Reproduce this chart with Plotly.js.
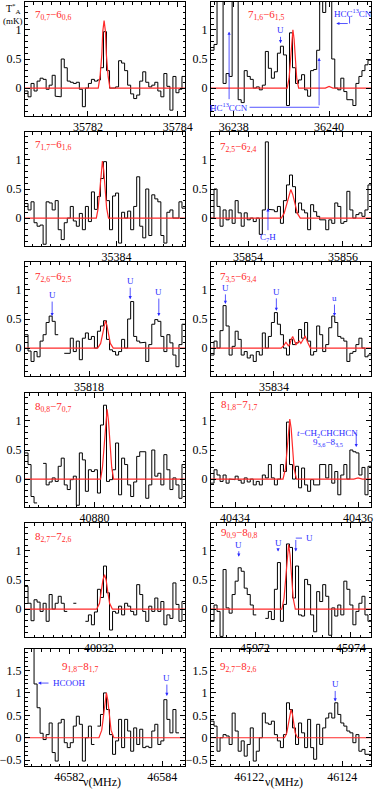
<!DOCTYPE html>
<html>
<head>
<meta charset="utf-8">
<script src="https://cdn.plot.ly/plotly-3.0.1.min.js"></script>
<style>html,body{margin:0;padding:0;background:#fff;}</style>
</head>
<body>
<div id="fig" style="width:382px;height:789px"></div>
<script>
const nuMin = [35780.60, 36237.52, 35382.05, 35853.22, 35816.68, 35832.69,
               40878.50, 40433.61, 40930.39, 45971.08, 46581.05, 46121.18];
const nuMax = [35784.16, 36240.88, 35385.46, 35856.59, 35819.98, 35836.02,
               40881.95, 40436.21, 40933.87, 45974.42, 46584.49, 46124.62];

const lineLabels = [
  '7<sub>0,7</sub>−6<sub>0,6</sub>', '7<sub>1,6</sub>−6<sub>1,5</sub>',
  '7<sub>1,7</sub>−6<sub>1,6</sub>', '7<sub>2,5</sub>−6<sub>2,4</sub>',
  '7<sub>2,6</sub>−6<sub>2,5</sub>', '7<sub>3,5</sub>−6<sub>3,4</sub>',
  '8<sub>0,8</sub>−7<sub>0,7</sub>', '8<sub>1,8</sub>−7<sub>1,7</sub>',
  '8<sub>2,7</sub>−7<sub>2,6</sub>', '9<sub>0,9</sub>−8<sub>0,8</sub>',
  '9<sub>1,8</sub>−8<sub>1,7</sub>', '9<sub>2,7</sub>−8<sub>2,6</sub>'
];

// Espectros observados, T*A (mK), um valor por canal (null = sem dados)
const spec1 = [-0.05,-0.15,0.08,-0.05,0.12,0.17,0.15,-0.02,0.05,0.22,-0.14,-0.15,0.5,0.35,0.12,0.1,0.08,0.1,-0.02,-0.32,0,0.08,0.15,0.12,0.14,0.35,0.97,0.3,0,0,0.02,0.47,0.43,0.3,0.05,-0.1,-0.18,-0.12,0.12,0.28,0.1,0.02,0.05,0.1,-0.05,-0.15,0.25,0.03,-0.38,0.2,-0.08,-0.02,0.2];
const spec2 = [0.65,0.75,3,3,0.08,0.25,0.2,3,3,-0.2,-0.25,0.3,0.2,0.15,0,0.02,-0.03,0.05,0.63,0.34,0.17,0.28,0.6,0.72,0.57,-0.3,0.95,0.35,0.08,0.14,0.23,-0.03,-0.14,0.3,0.32,0.65,3,1.3,3,3,0.5,0,-0.03,0.17,-0.06,-0.2,-0.2,-0.3,0.08,0.2,0.3,0.4,0.48];
const spec3 = [0.25,0.14,0.28,-0.08,-0.14,-0.12,-0.45,0.28,0.26,0.14,0.3,-0.2,-0.37,-0.08,0,0.2,-0.05,-0.14,0.08,-0.2,0.2,-0.06,0.45,0.15,0.37,0.68,0.97,0.3,-0.2,0.38,0.43,-0.43,0.1,0,0.12,-0.2,0.2,0.71,-0.14,-0.34,0.5,-0.3,0.4,0.33,0.28,-0.3,-0.43,0.1,0.14,0,0,0.28,0.17];
const spec4 = [0,0.5,0.2,-0.14,0.14,-0.03,0.14,-0.09,0.3,0.09,-0.14,0.09,-0.03,0,-0.06,0,-0.28,0.14,1.31,0.15,0.14,0.11,0.2,-0.09,0.3,0.57,0.74,0.54,0.09,0.26,0.14,0.09,-0.2,0.23,0.11,0.03,-0.03,-0.03,-0.2,-0.03,-0.09,0.26,0.2,-0.09,-0.06,0.46,0.14,0,0.06,0.09,0.03,0.14,0.57];
const spec5 = [0.23,-0.05,-0.23,-0.06,-0.15,0.12,0.23,0.44,0.55,0.46,0.23,null,null,-0.09,-0.09,0.17,-0.06,0.12,-0.2,0.17,0.26,0.15,0.2,0,0.29,0.38,0.47,0.15,-0.03,-0.06,-0.12,-0.06,0.15,0,0.5,0.8,0.2,0.12,0.09,0.1,-0.23,0.06,0.41,0.49,0.46,0.2,-0.06,0.23,0.09,-0.12,-0.32,0.06,0.41];
const spec6 = [-0.12,0.12,0,0.3,0.73,0.38,-0.12,0.03,0.29,0.15,-0.12,-0.06,-0.17,-0.12,-0.23,-0.06,-0.12,0.26,0,0.2,0.44,0.61,0.41,0.23,0,-0.12,0.15,0.06,0.09,0.32,0.17,0.44,0.12,-0.12,-0.06,0.38,0.23,-0.06,0.06,0.35,0.55,0.44,0.2,0.17,0.12,-0.23,-0.09,-0.06,0.06,0.17,0,-0.15,-0.12];
const spec7 = [0.45,0.25,-0.3,-0.41,null,null,0.27,-0.1,-0.05,0.02,-0.04,0.22,0.36,-0.1,-0.18,-0.01,0.05,-0.45,0.45,0.33,-0.21,0.16,0.13,0.16,-0.24,0.93,1.27,-0.04,-0.01,0.16,0.62,-0.27,0.36,0.25,-0.1,-0.3,-0.05,0.39,0.47,0.47,-0.33,-0.1,0.5,0.05,0.1,-0.1,0.42,0.16,-0.18,0.02,-0.1,-0.33,0.25];
const spec8 = [-0.07,0.16,0.07,-0.04,0.07,-0.07,0,-0.01,0.05,-0.02,-0.07,0.02,-0.05,0,-0.1,-0.04,-0.1,0.07,0.02,0.25,0.02,-0.1,0,0.25,0.13,0.98,0.25,0,0.22,-0.15,0.19,-0.1,-0.21,-0.01,-0.1,-0.1,0.25,0.25,0.02,0.25,-0.07,0.13,-0.27,0.07,0.25,0,0.5,0.47,0.45,0.07,0.2,-0.27,0.22];
const spec9 = [0.39,0.1,-0.2,0.16,0.12,-0.04,0.1,-0.21,0.25,0,0.1,0.22,0.1,-0.04,null,null,0.1,null,null,null,-0.21,-0.1,-0.27,-0.05,0.34,0.2,0.74,0.28,-0.36,-0.04,-0.07,0.05,-0.1,0.1,0.05,-0.04,-0.1,0.42,0.25,-0.04,-0.21,0.05,-0.04,0.19,-0.04,0.13,-0.27,-0.1,-0.16,0.45,0.08,-0.21,0.13];
const spec10 = [-0.21,0.07,-0.04,-0.47,0.68,0.02,-0.07,0.25,0.48,0.71,0.65,0.36,0.25,0.07,-0.1,null,null,null,-0.16,-0.04,-0.18,0.34,0.8,-0.21,0.08,1.12,1.06,0.19,0.74,-0.1,-0.12,0.51,0.42,-0.1,-0.39,0.3,0.13,0.42,0.22,-0.45,0.02,-0.12,0.07,-0.1,0.48,0.34,0.07,-0.27,-0.04,0.1,0.22,-0.1,-0.21];
const spec11 = [2.5,2.5,2.3,1.2,0.67,0.1,-0.04,0.07,0.33,-0.33,-0.52,0.33,0.41,-0.11,-0.22,-0.11,0.26,0.48,0.3,-0.52,0,0.26,-0.15,null,0.26,0.52,1.0,0.63,0.07,-0.37,-0.07,0.41,-0.22,0.41,0.15,-0.3,0.22,-0.15,0.19,-0.22,-0.19,-0.22,0.15,0.3,-0.15,-0.07,0.85,0.41,0.11,0.63,0.11,null,null];
const spec12 = [0.37,0.26,-0.3,0,0.07,0.04,-0.15,0.55,0.15,-0.3,-0.07,-0.41,-0.15,0.22,-0.52,-0.3,0,0.55,0.33,0.3,0.37,0.07,-0.07,-0.22,0.07,0.78,0.63,0.22,-0.15,0.33,0.11,-0.22,0.41,-0.22,-0.48,0.3,-0.15,0.22,0.44,0.55,0.44,0.78,0.52,0.33,0.26,0.15,0.11,-0.11,0.07,-0.3,-0.26,-0.37,-0.37];

// Modelo ajustado (curva vermelha)
const modelNu1 = [35780.6,35782.23,35782.27,35782.31,35782.33,35782.36,35782.39,35782.41,35782.45,35782.49,35784.16];
const modelT1  = [0,0,0.2,0.58,0.97,1.16,0.97,0.58,0.2,0,0];
const modelNu2 = [36237.52,36239.12,36239.16,36239.19,36239.215,36239.24,36239.265,36239.29,36239.32,36239.36,36239.92,36240.0,36240.08,36240.88];
const modelT2  = [0,0,0.17,0.5,0.84,1.0,0.84,0.5,0.17,0,0,0.03,0,0];
const modelNu3 = [35382.05,35383.57,35383.61,35383.645,35383.672,35383.70,35383.728,35383.755,35383.79,35383.83,35385.46];
const modelT3  = [0,0,0.17,0.49,0.82,0.98,0.82,0.49,0.17,0,0];
const modelNu4 = [35853.22,35854.70,35854.76,35854.815,35854.86,35854.90,35854.94,35854.985,35855.04,35855.10,35856.59];
const modelT4  = [0,0,0.08,0.25,0.41,0.49,0.41,0.25,0.08,0,0];
const modelNu5 = [35816.68,35818.18,35818.24,35818.275,35818.31,35818.34,35818.37,35818.405,35818.44,35818.50,35819.98];
const modelT5  = [0,0,0.08,0.24,0.39,0.47,0.39,0.24,0.08,0,0];
const modelNu6 = [35832.69,35834.15,35834.20,35834.25,35834.30,35834.33,35834.36,35834.39,35834.42,35834.46,35834.50,35834.53,35834.56,35834.60,35834.65,35834.70,35834.76,35836.02];
const modelT6  = [0,0,0.04,0.1,0.04,0.06,0.15,0.2,0.14,0.06,0.1,0.12,0.08,0.13,0.21,0.1,0,0];
const modelNu7 = [40878.5,40880.13,40880.17,40880.21,40880.24,40880.27,40880.30,40880.33,40880.37,40880.41,40881.95];
const modelT7  = [0,0,0.2,0.6,1.0,1.2,1.0,0.6,0.2,0,0];
const modelNu8 = [40433.61,40434.78,40434.82,40434.845,40434.867,40434.89,40434.913,40434.935,40434.96,40435.0,40435.93,40436.0,40436.07,40436.21];
const modelT8  = [0,0,0.18,0.52,0.87,1.03,0.87,0.52,0.18,0,0,0.02,0,0];
const modelNu9 = [40930.39,40931.95,40932.01,40932.05,40932.085,40932.12,40932.155,40932.19,40932.23,40932.29,40933.87];
const modelT9  = [0,0,0.1,0.3,0.5,0.59,0.5,0.3,0.1,0,0];
const modelNu10 = [45971.08,45972.56,45972.605,45972.64,45972.67,45972.70,45972.73,45972.76,45972.795,45972.84,45974.42];
const modelT10  = [0,0,0.19,0.56,0.93,1.11,0.93,0.56,0.19,0,0];
const modelNu11 = [46581.05,46582.64,46582.70,46582.735,46582.77,46582.80,46582.83,46582.865,46582.90,46582.96,46584.49];
const modelT11  = [0,0,0.17,0.5,0.84,1.0,0.84,0.5,0.17,0,0];
const modelNu12 = [46121.18,46122.76,46122.81,46122.84,46122.87,46122.90,46122.93,46122.96,46122.99,46123.04,46124.62];
const modelT12  = [0,0,0.11,0.32,0.53,0.63,0.53,0.32,0.11,0,0];

// Marcas de linhas não identificadas / outras espécies: [painel, nu, T da ponta, deslocamento px, texto]
const arrowMarks = [
  [2, 36238.98, 0.77, -13, 'U'],
  [2, 36237.90, 0.97, 75, 'HC<sup>13</sup>CCN'],
  [4, 35854.42, 0.17, 29, 'C<sub>7</sub>H'],
  [5, 35817.24, 0.55, -21, 'U'],
  [5, 35818.85, 0.84, -18, 'U'],
  [5, 35819.44, 0.55, -24, 'U'],
  [6, 35832.99, 0.76, -16, 'U'],
  [6, 35834.05, 0.64, -19, 'U'],
  [6, 35835.26, 0.55, -18, 'u'],
  [10, 45971.66, 0.90, -12, 'U'],
  [10, 45972.48, 0.99, -9, 'U'],
  [11, 46584.10, 0.93, -18, 'U'],
  [12, 46123.85, 0.81, -17, 'U']
];
// setas sem texto: [painel, nu, T, ax px, ay px]
const bareArrows = [
  [2, 36239.79, 0.52, 0, 49],
  [2, 36240.15, 1.11, 13, 0],
  [8, 40435.97, 0.55, 0, -14],
  [10, 45972.85, 0.99, 0, -13],
  [11, 46581.33, 1.22, 12, 0]
];
// textos soltos: [painel, nu, T, texto, âncora]
const freeTexts = [
  [2, 36240.51, 1.29, 'HCC<sup>13</sup>CN', 'center'],
  [8, 40435.50, 0.79, '<i>t</i>−CH<sub>2</sub>CHCHCN', 'center'],
  [8, 40435.51, 0.63, '9<sub>3,6</sub>−8<sub>3,5</sub>', 'center'],
  [10, 45973.02, 1.22, 'U', 'left'],
  [11, 46581.60, 1.22, 'HCOOH', 'left']
];
// traços de ligação: [painel, nu0, T0, nu1, T1]
const connectors = [
  [2, 36238.33, -0.33, 36239.79, -0.33],
  [2, 36240.43, 1.23, 36240.43, 1.11],
  [8, 40435.93, 0.79, 40435.97, 0.79],
  [10, 45972.85, 1.22, 45972.98, 1.22]
];

// Layout (pixels)
const W = 382, H = 789;
const colPx = [[25, 185], [211, 371]];
const rowPx = [[2, 116], [132, 246], [262, 376], [393, 507], [523, 637], [649, 766]];
const labelPx = [[33,15],[246,15],[33,145],[218,147],[33,277],[218,277],
                 [33,407],[219,405],[33,537],[219,533],[60,667],[218,667]];

const RED = '#ff2a2a', BLUE = '#2a2aff';
const spectra = [spec1,spec2,spec3,spec4,spec5,spec6,spec7,spec8,spec9,spec10,spec11,spec12];
const modelNu = [modelNu1,modelNu2,modelNu3,modelNu4,modelNu5,modelNu6,modelNu7,modelNu8,modelNu9,modelNu10,modelNu11,modelNu12];
const modelT = [modelT1,modelT2,modelT3,modelT4,modelT5,modelT6,modelT7,modelT8,modelT9,modelT10,modelT11,modelT12];

const sfx = k => (k === 1 ? '' : String(k));
const traces = [];
const layout = {
  width: W, height: H, margin: {l: 0, r: 0, t: 0, b: 0},
  paper_bgcolor: '#fff', plot_bgcolor: '#fff', showlegend: false,
  font: {family: 'Liberation Serif', size: 12, color: '#000'},
  annotations: [], shapes: []
};

for (let p = 0; p < 12; p++) {
  const k = p + 1, row = Math.floor(p / 2), col = p % 2;
  const vals = spectra[p];
  const n = vals.length, dnu = (nuMax[p] - nuMin[p]) / n;
  // histograma: cada canal vira um degrau horizontal
  const x = [], y = [];
  vals.forEach((v, i) => {
    if (v === null) { x.push(null); y.push(null); return; }
    x.push(nuMin[p] + i * dnu, nuMin[p] + (i + 1) * dnu);
    y.push(v, v);
  });
  traces.push({x, y, xaxis: 'x' + sfx(k), yaxis: 'y' + sfx(k), mode: 'lines',
    connectgaps: false, line: {color: '#000', width: 1}, hoverinfo: 'skip'});
  traces.push({x: modelNu[p], y: modelT[p], xaxis: 'x' + sfx(k), yaxis: 'y' + sfx(k),
    mode: 'lines', line: {color: RED, width: 1.2}, hoverinfo: 'skip'});

  const common = {showline: true, linecolor: '#000', linewidth: 1, mirror: 'ticks',
    ticks: 'inside', ticklen: 5, tickwidth: 1, tickcolor: '#000',
    showgrid: false, zeroline: false, fixedrange: true, tickfont: {size: 12}};
  layout['xaxis' + sfx(k)] = Object.assign({}, common, {
    domain: [colPx[col][0] / W, colPx[col][1] / W],
    range: [nuMin[p], nuMax[p]], anchor: 'y' + sfx(k),
    tickmode: 'linear', tick0: 0, dtick: 2, tickformat: 'd',
    minor: {tickmode: 'linear', tick0: 0, dtick: 0.2, ticks: 'inside', ticklen: 2.5, tickcolor: '#000', showgrid: false}
  });
  layout['yaxis' + sfx(k)] = Object.assign({}, common, {
    domain: [1 - rowPx[row][1] / H, 1 - rowPx[row][0] / H],
    range: row === 5 ? [-0.63, 1.98] : [-0.48, 1.48], anchor: 'x' + sfx(k),
    tickmode: 'linear', tick0: 0, dtick: 0.5,
    minor: {tickmode: 'linear', tick0: 0, dtick: 0.1, ticks: 'inside', ticklen: 2.5, tickcolor: '#000', showgrid: false}
  });

  layout.annotations.push({xref: 'paper', yref: 'paper', x: labelPx[p][0] / W, y: 1 - labelPx[p][1] / H,
    xanchor: 'left', yanchor: 'middle', text: lineLabels[p], showarrow: false,
    font: {color: RED, size: 11}});
}

arrowMarks.forEach(m => layout.annotations.push({
  xref: 'x' + sfx(m[0]), yref: 'y' + sfx(m[0]), x: m[1], y: m[2], text: m[4],
  showarrow: true, ax: 0, ay: m[3], arrowhead: 2, arrowsize: 0.8, arrowwidth: 0.8,
  arrowcolor: BLUE, font: {color: BLUE, size: 9}}));
bareArrows.forEach(m => layout.annotations.push({
  xref: 'x' + sfx(m[0]), yref: 'y' + sfx(m[0]), x: m[1], y: m[2], text: '',
  showarrow: true, ax: m[3], ay: m[4], arrowhead: 2, arrowsize: 0.8, arrowwidth: 0.8,
  arrowcolor: BLUE, font: {size: 1}}));
freeTexts.forEach(m => layout.annotations.push({
  xref: 'x' + sfx(m[0]), yref: 'y' + sfx(m[0]), x: m[1], y: m[2], text: m[3],
  xanchor: m[4], showarrow: false, font: {color: BLUE, size: 9}}));
connectors.forEach(m => layout.shapes.push({
  type: 'line', xref: 'x' + sfx(m[0]), yref: 'y' + sfx(m[0]),
  x0: m[1], y0: m[2], x1: m[3], y1: m[4], line: {color: BLUE, width: 0.8}}));

// rótulos dos eixos
layout.annotations.push(
  {xref: 'paper', yref: 'paper', x: 4 / W, y: 1 - 9 / H, xanchor: 'left', yanchor: 'middle',
   text: 'T<sup>*</sup><sub>A</sub>', showarrow: false, font: {size: 10}},
  {xref: 'paper', yref: 'paper', x: 1 / W, y: 1 - 21 / H, xanchor: 'left', yanchor: 'middle',
   text: '(mK)', showarrow: false, font: {size: 9}},
  {xref: 'paper', yref: 'paper', x: 102 / W, y: 1 - 782 / H, xanchor: 'center', yanchor: 'middle',
   text: 'ν(MHz)', showarrow: false, font: {size: 12}},
  {xref: 'paper', yref: 'paper', x: 284 / W, y: 1 - 782 / H, xanchor: 'center', yanchor: 'middle',
   text: 'ν(MHz)', showarrow: false, font: {size: 12}}
);

Plotly.newPlot('fig', traces, layout, {displayModeBar: false, staticPlot: true});
</script>
</body>
</html>
